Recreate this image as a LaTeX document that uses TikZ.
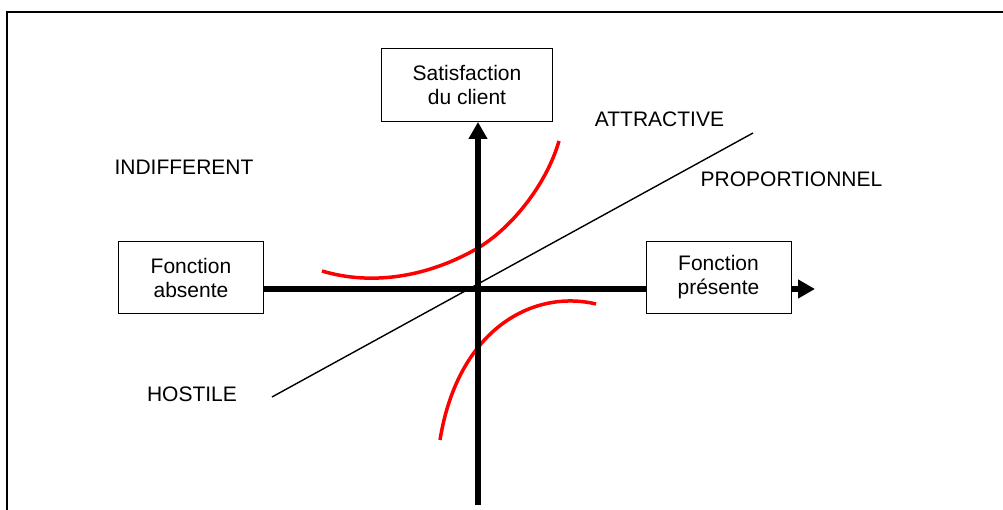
\documentclass[tikz,border=0pt]{standalone}
\usepackage{fontspec}
\setmainfont{Liberation Sans}
\usetikzlibrary{arrows.meta}

\begin{document}
\begin{tikzpicture}[x=1pt, y=1pt]
    \tikzset{box/.style={
        draw, line width=1pt, align=center, inner sep=0pt,
        minimum width=145pt, minimum height=72pt, font=\fontsize{21}{24}\selectfont
      },
      zone/.style={anchor=base, inner sep=0pt, font=\fontsize{21}{24}\selectfont},
      axis/.style={line width=5.5pt},
      curve/.style={red, line width=3.5pt},
      tip/.style={-{Triangle[length=17pt, width=18pt]}}
    }

    \useasboundingbox (-478,-221) rectangle (525,289);
    \draw[line width=2pt] (-471,-240) |- (540,277);

    \coordinate (O) at (0,0);
    \coordinate (ybot) at (0,-216);
    \coordinate (xend) at (337,0);

    \node[box, minimum width=170pt, minimum height=73pt] (sat) at (-11,204) {Satisfaction\\du client};
    \node[box] (abs) at (-287,11.5) {Fonction\\absente};
    \node[box] (pres) at (240.5,11.5) {Fonction\\présente};

    \node[zone] (indiff) at (-294,114) {INDIFFERENT};
    \node[zone] (attr) at (181.5,162) {ATTRACTIVE};
    \node[zone] (prop) at (313.5,102) {PROPORTIONNEL};
    \node[zone] (host) at (-286,-113) {HOSTILE};

    % courbes
    \coordinate (p1) at (-206,-108);
    \coordinate (p2) at (275,156);
    \draw[line width=1.4pt] (p1) -- (p2);

    \draw[curve] (-156,18) .. controls (-106,3) and (-50,12) .. (0,41)
      .. controls (35,62) and (69,106) .. (81,148);
    \draw[curve] (-38,-151) .. controls (-20,-40) and (55,0) .. (118,-15);

    % axes
    \draw[axis, tip] (ybot) -- (O |- sat.south);
    \draw[axis] (abs.east |- O) -- (pres.west |- O);
    \draw[axis, tip] (pres.east |- O) -- (xend);
\end{tikzpicture}
\end{document}
